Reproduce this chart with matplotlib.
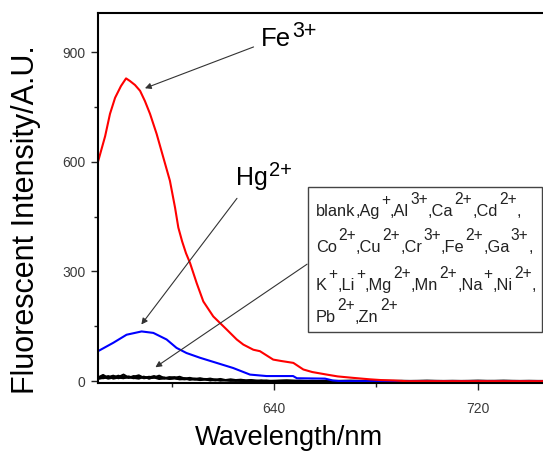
import numpy as np
import matplotlib
matplotlib.use("Agg")
import matplotlib.pyplot as plt
from matplotlib.ticker import MultipleLocator

plt.rcParams['font.family'] = ['Liberation Sans', 'DejaVu Sans']

# ---- data ----
fe_wl = [571, 573.8, 575.7, 577.7, 580, 582, 583.5, 585.5, 587.5, 589.4, 591.4, 594, 596.6, 599.2,
         601.2, 602.5, 604, 605.5, 607.1, 609.7, 612.3, 616.2, 621.5, 625.4, 628, 631.9, 634.5, 639.7,
         643, 647.6, 651.5, 655, 660.7, 665, 671.1, 677.7, 682, 686.8, 692, 700, 720, 750]
fe_val = [600, 670, 731, 775, 807, 828, 821, 810, 794, 766, 731, 676, 612, 548,
          475, 420, 382, 350, 323, 268, 218, 177, 141, 114, 100, 86, 82, 59,
          55, 50, 32, 25, 18, 13, 9, 5, 3, 2, 0, 0, 0, 0]

hg_wl = [571, 577, 582.2, 588.1, 592.7, 597.9, 601.8, 605.7, 611, 617.5, 624, 630.6, 637.1,
         647.5, 649, 660, 663, 666, 700, 750]
hg_val = [82, 105, 127, 136, 132, 114, 91, 77, 64, 50, 36, 18, 14,
          14, 8, 7, 2, 0, 0, 0]

# blank and non-responding ions (noisy, near zero)
blk_wl = list(range(571, 641, 2)) + [645, 650, 655, 660, 670, 680, 690, 700, 710, 720, 730, 740, 750]
blk_a = [10, 17, 9, 13, 11, 18, 10, 12, 16, 9, 12, 10, 15, 8, 11, 9, 12, 7, 9, 6, 8, 5, 7, 4, 6, 3, 5, 3, 4, 2, 3, 1, 2, 1, 1,
         2, 0, 1, 0, 1, 0, 1, 0, 1, 0, 1, 0, 0]
blk_b = [6, 9, 14, 7, 10, 8, 13, 9, 7, 12, 8, 10, 6, 9, 7, 8, 5, 7, 4, 6, 3, 5, 2, 4, 2, 3, 1, 2, 1, 1, 0, 1, 0, 1, 0,
         0, 1, 0, 1, 0, 1, 0, 1, 0, 1, 0, 1, 0]
blk_c = [12, 8, 11, 15, 8, 12, 9, 14, 10, 12, 7, 11, 9, 10, 6, 8, 6, 8, 5, 7, 4, 5, 3, 4, 2, 3, 2, 2, 1, 1, 1, 0, 1, 0, 0,
         1, 0, 0, 0, 1, 0, 0, 1, 0, 0, 1, 0, 0]
blk_d = [8, 12, 7, 10, 15, 9, 11, 8, 13, 8, 10, 14, 8, 7, 9, 11, 6, 5, 7, 4, 6, 6, 4, 2, 4, 2, 3, 1, 3, 0, 2, 1, 0, 1, 0,
         1, 1, 0, 0, 0, 1, 0, 0, 0, 1, 0, 0, 1]

xticks = [640, 720]
yticks = [0, 300, 600, 900]

# ion list in the box: (symbol, charge) per row
legend_rows = [
    [("blank", ""), ("Ag", "+"), ("Al", "3+"), ("Ca", "2+"), ("Cd", "2+")],
    [("Co", "2+"), ("Cu", "2+"), ("Cr", "3+"), ("Fe", "2+"), ("Ga", "3+")],
    [("K", "+"), ("Li", "+"), ("Mg", "2+"), ("Mn", "2+"), ("Na", "+"), ("Ni", "2+")],
    [("Pb", "2+"), ("Zn", "2+")],
]
legend_trailing = [",", ",", ",", ""]

W, H = 543, 453
fig = plt.figure(figsize=(W / 100, H / 100), dpi=100)
ax = fig.add_axes([98 / W, 1 - 383 / H, 456.5 / W, (383 - 13.3) / H])
renderer = fig.canvas.get_renderer()

for b in (blk_a, blk_b, blk_c, blk_d):
    ax.plot(blk_wl, b, color='black', lw=1.5)
ax.plot(hg_wl, hg_val, color='#0000ff', lw=1.5)
ax.plot(fe_wl, fe_val, color='#ff0000', lw=1.5)

ax.set_xlim(571, 750)
ax.set_ylim(-5, 1006)
ax.set_xticks(xticks)
ax.set_yticks(yticks)
ax.xaxis.set_minor_locator(MultipleLocator(40))
ax.yaxis.set_minor_locator(MultipleLocator(150))
ax.tick_params(which='major', direction='out', length=5, width=1, colors='#222222',
               labelsize=10, labelcolor='#3a3a3a')
ax.tick_params(axis='x', which='major', pad=9)
ax.tick_params(axis='y', which='major', pad=4)
ax.tick_params(which='minor', direction='out', length=3, width=1, colors='#222222')
for s in ax.spines.values():
    s.set_linewidth(1.5)

fig.text(26 / W, 1 - 220 / H, "Fluorescent Intensity/A.U.", rotation=90, fontsize=22,
         ha='center', va='center')
fig.text(288.5 / W, 1 - 445 / H, "Wavelength/nm", fontsize=19.6, ha='center', va='baseline')


def rich(x_px, y_px, pieces, size, sup_size, raise_px, gap_before=1.0, gap_after=0.0,
         color='black'):
    """Draw base text with superscripts as separate pieces; returns end x (px)."""
    x = x_px
    for txt, is_sup in pieces:
        if not txt:
            continue
        if is_sup:
            x += gap_before
        t = fig.text(x / W, 1 - (y_px - (raise_px if is_sup else 0)) / H, txt,
                     fontsize=sup_size if is_sup else size, ha='left', va='baseline',
                     color=color)
        bb = t.get_window_extent(renderer)
        x += bb.width
        if is_sup:
            x += gap_after
    return x


rich(261, 46, [("Fe", False), ("3+", True)], 18.5, 15.5, 9.3)
rich(236, 185, [("Hg", False), ("2+", True)], 18, 14.5, 9.0)

arrow = dict(arrowstyle='-|>', lw=0.8, color='#333333', mutation_scale=9, shrinkA=0, shrinkB=0)
ax.annotate("", xy=(589.4, 801), xytext=(632.0, 914), arrowprops=arrow)
ax.annotate("", xy=(588.0, 155), xytext=(625.5, 500), arrowprops=arrow)
ax.annotate("", xy=(593.5, 38), xytext=(653.0, 320), arrowprops=arrow)

# box with list of ions
box = plt.Rectangle((308 / W, 1 - 331.7 / H), (541.7 - 308) / W, (331.7 - 186.7) / H,
                    transform=fig.transFigure, fill=False, edgecolor='#444444', lw=1.0)
fig.add_artist(box)
baselines = [216, 251.7, 290, 321.7]
for row, trail, yb in zip(legend_rows, legend_trailing, baselines):
    pieces = []
    for i, (sym, chg) in enumerate(row):
        pieces.append(((',' if i > 0 else '') + sym, False))
        pieces.append((chg, True))
    pieces.append((trail, False))
    rich(316, yb, pieces, 11.8, 11.2, 11.5, gap_before=1.2, gap_after=0.0, color='#222222')

fig.savefig("out.png", dpi=100)
